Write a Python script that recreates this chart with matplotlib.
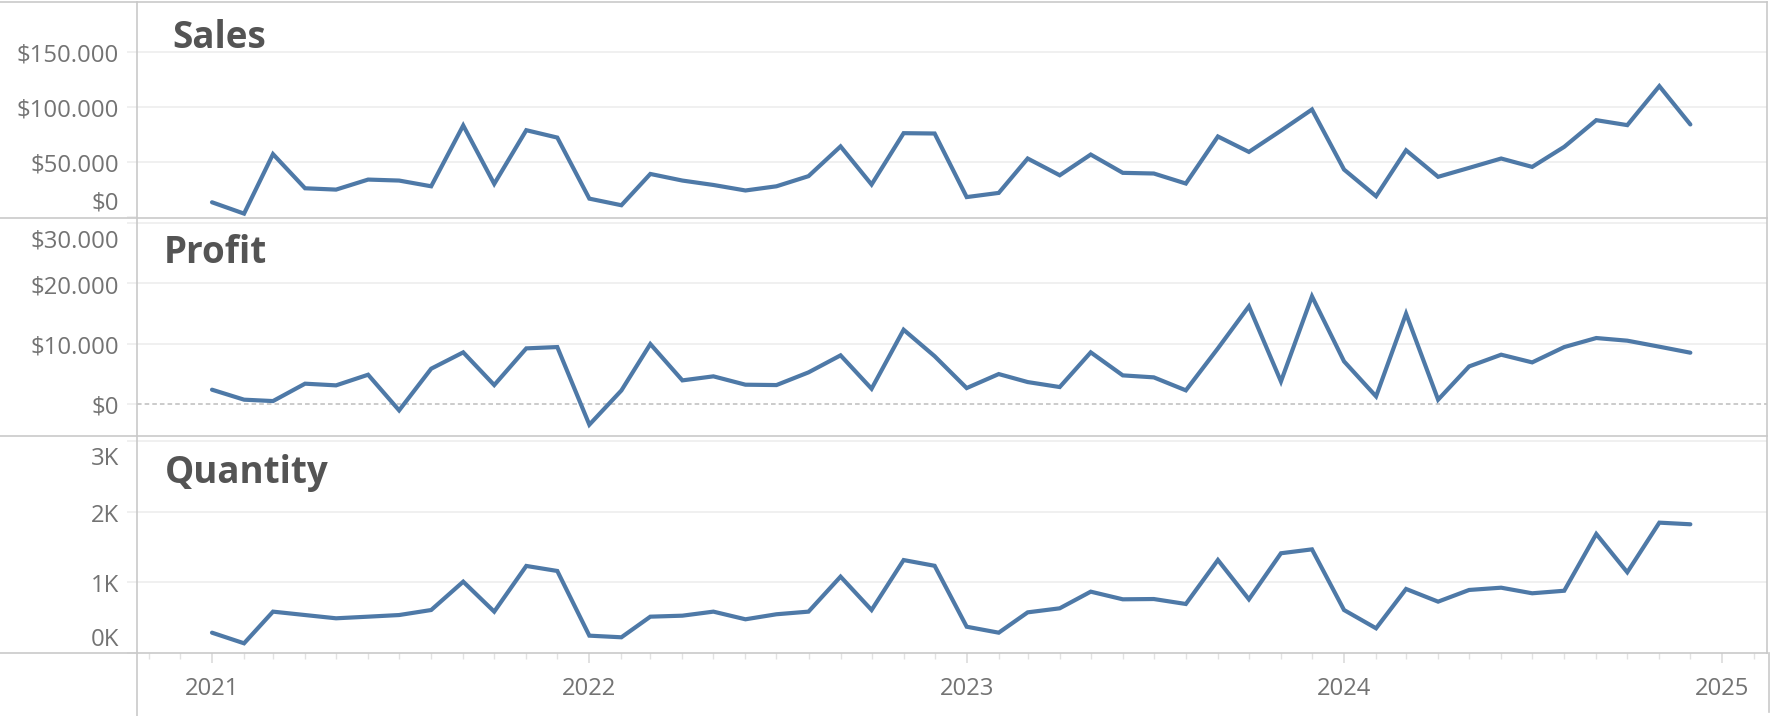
import matplotlib
matplotlib.use("Agg")
import matplotlib.pyplot as plt
import matplotlib.dates as mdates
from matplotlib.transforms import offset_copy
from matplotlib.lines import Line2D
import pandas as pd

# ---------------- data ----------------
months = pd.date_range("2021-01-01", "2024-12-01", freq="MS")

sales = [13300, 3000, 57000, 26000, 24800, 33900, 33000, 27800, 83000, 30000, 78700, 72000,
         16600, 10600, 39000, 33000, 29000, 24000, 27800, 37000, 64000, 29400, 76000, 75700,
         18000, 21800, 53000, 37800, 56600, 40000, 39400, 30300, 73000, 59000, 78300, 97500,
         43000, 18800, 60500, 36400, 44500, 53000, 45400, 63600, 87800, 83300, 118700, 83900]

profit = [2330, 670, 440, 3330, 3050, 4820, -1110, 5820, 8540, 3100, 9200, 9420,
          -3490, 2200, 9920, 3880, 4550, 3160, 3100, 5210, 8040, 2490, 12300, 7900,
          2600, 4930, 3600, 2770, 8540, 4710, 4380, 2220, 9200, 16200, 3700, 17850,
          7040, 1220, 14970, 670, 6200, 8150, 6870, 9420, 10920, 10480, 9480, 8480]

quantity = [291, 141, 588, 540, 494, 517, 540, 611, 1011, 588, 1233, 1162,
            249, 226, 517, 531, 588, 480, 551, 588, 1082, 611, 1316, 1235,
            375, 291, 578, 635, 870, 762, 766, 696, 1317, 762, 1412, 1467,
            611, 353, 908, 729, 894, 926, 847, 883, 1684, 1144, 1844, 1821]

titles = ["Sales", "Profit", "Quantity"]
sales_ticks = [0, 50000, 100000, 150000]
sales_labels = ["$0", "$50.000", "$100.000", "$150.000"]
profit_ticks = [0, 10000, 20000, 30000]
profit_labels = ["$0", "$10.000", "$20.000", "$30.000"]
qty_ticks = [0, 1000, 2000, 3000]
qty_labels = ["0K", "1K", "2K", "3K"]
year_ticks = ["2021", "2022", "2023", "2024", "2025"]

# ---------------- style ----------------
LINE = "#4e79a7"
GRID = "#ededed"
BORDER = "#c9c9c9"
TICKC = "#737373"
TITLEC = "#545454"
FONT = ["Open Sans", "DejaVu Sans"]

W, H = 1770, 716
fig = plt.figure(figsize=(W / 100, H / 100), dpi=100)

def fy(px):
    return 1 - px / H

L = 137 / W
WD = (1767 - 137) / W
ax_s = fig.add_axes([L, fy(217.7), WD, (217.7 - 1.7) / H])
ax_p = fig.add_axes([L, fy(436), WD, (436 - 217.7) / H])
ax_q = fig.add_axes([L, fy(653.3), WD, (653.3 - 436) / H])

# x range (pixels -> days)
d2021 = mdates.date2num(pd.Timestamp("2021-01-01"))
d2025 = mdates.date2num(pd.Timestamp("2025-01-01"))
ppd = (1722.4 - 212) / (d2025 - d2021)
xmin = d2021 - (212 - 137) / ppd
xmax = d2025 + (1767 - 1722.4) / ppd

panels = [
    (ax_s, sales, sales_ticks, sales_labels, (-700, 195300), "Sales"),
    (ax_p, profit, profit_ticks, profit_labels, (-5370, 30930), "Profit"),
    (ax_q, quantity, qty_ticks, qty_labels, (0, 3067), "Quantity"),
]

for ax, vals, ticks, labels, ylim, title in panels:
    ax.set_xlim(xmin, xmax)
    ax.set_ylim(*ylim)
    for s in ax.spines.values():
        s.set_visible(False)
    ax.set_facecolor("white")
    for t in ticks:
        if title == "Profit" and t == 0:
            ax.axhline(t, color="#bdbdbd", lw=1.1, ls=(0, (3, 2)), zorder=1)
        elif t != 0:
            ax.axhline(t, color=GRID, lw=1.2, zorder=1)
    ax.set_yticks(ticks)
    ax.tick_params(axis="y", length=7.5, width=1.2, color=GRID, labelleft=False)
    ax.plot(mdates.date2num(months), vals, color=LINE, lw=3.0, solid_joinstyle="miter",
            solid_capstyle="round", zorder=3)
    # y tick labels (Tableau keeps edge labels inside the pane)
    n = len(ticks)
    for i, (t, lab) in enumerate(zip(ticks, labels)):
        dy = -10
        if t == 0 and ylim[0] >= -1000:
            dy = 7.3
        if i == n - 1 and title != "Sales":
            dy = -24
        tr = offset_copy(ax.get_yaxis_transform(), fig=fig, x=-18, y=dy, units="dots")
        ax.text(0, t, lab, transform=tr, ha="right", va="baseline",
                fontsize=17.2, color=TICKC, family=FONT)

# x axis only on quantity
years = [mdates.date2num(pd.Timestamp(f"{y}-01-01")) for y in year_ticks]
for ax in (ax_s, ax_p):
    ax.set_xticks([])
ax_q.set_xticks(years)
ax_q.set_xticks(mdates.date2num(pd.date_range("2020-11-01", "2025-02-01", freq="MS")), minor=True)
ax_q.tick_params(axis="x", which="major", length=7.5, width=1.2, color="#dcdcdc", labelbottom=False)
ax_q.tick_params(axis="x", which="minor", length=4.5, width=1.0, color="#e2e2e2")
for xv, lab in zip(years, year_ticks):
    tr = offset_copy(ax_q.get_xaxis_transform(), fig=fig, x=0, y=-41.7, units="dots")
    ax_q.text(xv, 0, lab, transform=tr, ha="center", va="baseline",
              fontsize=17.2, color=TICKC, family=FONT)

# titles
for title, x, base in [("Sales", 172, 48.3), ("Profit", 164, 263.3), ("Quantity", 165, 483.3)]:
    fig.text(x / W, fy(base), title, ha="left", va="baseline", fontsize=26.5,
             fontweight="bold", color=TITLEC, family=FONT)

# pane borders
for ypx in (1.7, 217.7, 436, 653.3):
    fig.add_artist(Line2D([0, 1767 / W], [fy(ypx), fy(ypx)], color=BORDER, lw=1.2))
fig.add_artist(Line2D([137 / W, 137 / W], [0, fy(1.7)], color=BORDER, lw=1.2))
fig.add_artist(Line2D([1767 / W, 1767 / W], [fy(653.3), fy(1.7)], color=BORDER, lw=1.2))
fig.add_artist(Line2D([1768.8 / W, 1768.8 / W], [fy(712), fy(653.3)], color=BORDER, lw=1.2))

fig.savefig("out.png", dpi=100, facecolor="white")
